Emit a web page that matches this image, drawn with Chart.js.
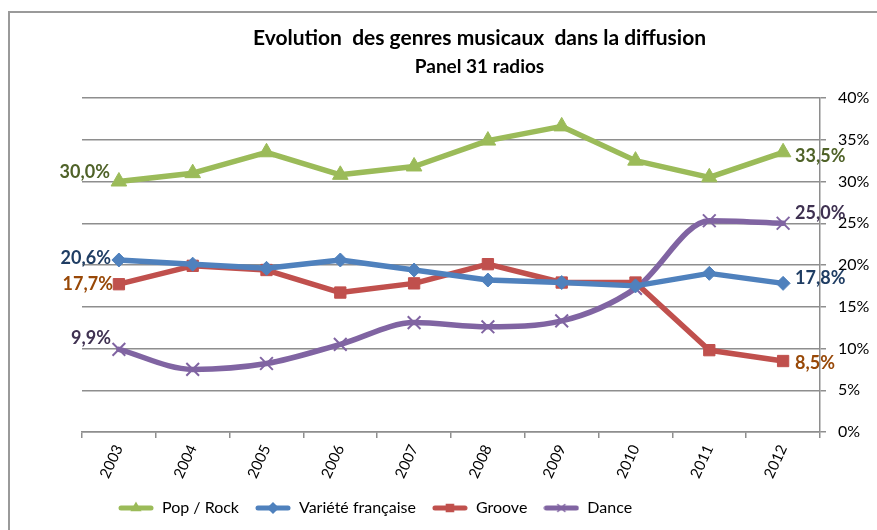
<!DOCTYPE html>
<html>
<head>
    <title>Evolution des genres musicaux</title>
    <script src="https://cdn.jsdelivr.net/npm/chart.js"></script>
    <style>
        body { margin: 0; overflow: hidden; background: #fff; }
        #frame { position: absolute; left: 8px; top: 11px; width: 900px; height: 600px;
                 border-top: 2px solid #9a9a9a; border-left: 2px solid #9a9a9a; }
        #plot { position: absolute; left: 0; top: 0; }
    </style>
</head>
<body>
    <div id="frame"></div>
    <canvas id="plot" width="877" height="530"></canvas>

    <script>
        // values (percent)
        const years = ['2003', '2004', '2005', '2006', '2007', '2008', '2009', '2010', '2011', '2012'];
        const popRock = [30.0, 31.0, 33.5, 30.8, 31.8, 34.9, 36.6, 32.5, 30.5, 33.5];
        const varieteFr = [20.6, 20.1, 19.6, 20.6, 19.4, 18.2, 17.9, 17.5, 19.0, 17.8];
        const groove = [17.7, 19.9, 19.4, 16.7, 17.8, 20.1, 17.9, 17.9, 9.8, 8.5];
        const dance = [9.9, 7.5, 8.2, 10.5, 13.1, 12.6, 13.3, 17.2, 25.3, 25.0];

        const FONT = 'Lato, "Noto Sans", sans-serif';

        const series = [
            { label: 'Pop / Rock', data: popRock, color: '#9BBB59', text: '#4F6228', style: 'triangle', r: 9, smooth: false },
            { label: 'Variété française', data: varieteFr, color: '#4F81BD', text: '#1F3D63', style: 'rectRot', r: 7, smooth: false },
            { label: 'Groove', data: groove, color: '#C0504D', text: '#984807', style: 'rect', r: 8, smooth: false },
            { label: 'Dance', data: dance, color: '#8064A2', text: '#3F3151', style: 'crossRot', r: 9, smooth: true }
        ];

        // little line + marker pictures for the legend
        function legendIcon(s) {
            const c = document.createElement('canvas');
            c.width = 36; c.height = 14;
            const g = c.getContext('2d');
            g.strokeStyle = s.color;
            g.fillStyle = s.color;
            g.lineWidth = 5;
            g.lineCap = 'round';
            g.beginPath(); g.moveTo(3, 7); g.lineTo(33, 7); g.stroke();
            g.lineWidth = 1.5;
            Chart.helpers.drawPoint(g, { pointStyle: s.style, radius: 5, rotation: 0, borderWidth: 1.5 }, 18, 7);
            return c;
        }

        // first / last value labels
        const edgeLabels = {
            id: 'edgeLabels',
            afterDatasetsDraw(chart, args, opts) {
                const ctx = chart.ctx;
                ctx.save();
                ctx.font = 'bold 18px ' + FONT;
                ctx.textBaseline = 'middle';
                chart.data.datasets.forEach((ds, i) => {
                    const pts = chart.getDatasetMeta(i).data;
                    const o = opts.offsets[i];
                    const fmt = v => v.toFixed(1).replace('.', ',') + '%';
                    ctx.fillStyle = series[i].text;
                    const a = pts[0], b = pts[pts.length - 1];
                    ctx.textAlign = 'right';
                    ctx.fillText(fmt(ds.data[0]), a.x - o[0], a.y + o[1]);
                    ctx.textAlign = 'left';
                    ctx.fillText(fmt(ds.data[ds.data.length - 1]), b.x + o[2], b.y + o[3]);
                });
                ctx.restore();
            }
        };

        // move the legend a bit to the right like the original
        const legendShift = {
            id: 'legendShift',
            afterLayout(chart) { chart.legend.left += 20; chart.legend.right += 20; }
        };

        const ctx = document.getElementById('plot').getContext('2d');
        const chart = new Chart(ctx, {
            type: 'line',
            data: {
                labels: years,
                datasets: series.map(s => ({
                    label: s.label,
                    data: s.data,
                    borderColor: s.color,
                    backgroundColor: s.color,
                    borderWidth: 5.5,
                    borderJoinStyle: 'round',
                    borderCapStyle: 'round',
                    pointStyle: s.style,
                    pointRadius: s.r,
                    pointBorderWidth: s.style === 'crossRot' ? 2 : 1,
                    pointBackgroundColor: s.color,
                    pointBorderColor: s.color,
                    cubicInterpolationMode: s.smooth ? 'monotone' : 'default',
                    tension: 0,
                    fill: false
                }))
            },
            options: {
                responsive: false,
                animation: false,
                layout: { padding: { left: 82, right: 0, top: 0, bottom: 4 } },
                plugins: {
                    title: {
                        display: true,
                        text: 'Evolution  des genres musicaux  dans la diffusion',
                        color: '#000',
                        font: { family: FONT, size: 21, weight: 'bold', lineHeight: 1.2 },
                        padding: { top: 26, bottom: 2 }
                    },
                    subtitle: {
                        display: true,
                        text: 'Panel 31 radios',
                        color: '#000',
                        font: { family: FONT, size: 19, weight: 'bold', lineHeight: 1.2 },
                        padding: { top: 2, bottom: 20 }
                    },
                    legend: {
                        position: 'bottom',
                        align: 'start',
                        labels: {
                            color: '#000',
                            font: { family: FONT, size: 16 },
                            usePointStyle: true,
                            pointStyleWidth: 36,
                            boxHeight: 14,
                            padding: 16,
                            generateLabels(chart) {
                                const items = Chart.defaults.plugins.legend.labels.generateLabels(chart);
                                items.forEach((it, i) => { it.pointStyle = legendIcon(series[i]); });
                                return items;
                            }
                        }
                    },
                    tooltip: { enabled: false },
                    edgeLabels: {
                        // [left dx, left dy, right dx, right dy]
                        offsets: [[9, -9, 12, 4], [8, -2, 12, -5], [6, 0, 12, 2], [8, -11, 12, -10]]
                    }
                },
                scales: {
                    x: {
                        offset: true,
                        grid: { display: true, drawOnChartArea: false, offset: true, color: '#8E8E8E', lineWidth: 1.5, tickLength: 6 },
                        border: { color: '#8E8E8E', width: 1.5 },
                        ticks: { color: '#000', font: { family: FONT, size: 15 }, minRotation: 65, maxRotation: 65, padding: 4 },
                        afterFit(scale) { scale.height = 52; }
                    },
                    y: {
                        position: 'right',
                        min: 0,
                        max: 40,
                        ticks: {
                            stepSize: 5,
                            color: '#000',
                            padding: 12,
                            font: { family: FONT, size: 16 },
                            callback: v => v + '%'
                        },
                        grid: { color: '#8E8E8E', lineWidth: 1.5, tickLength: 6 },
                        border: { color: '#8E8E8E', width: 1.5 },
                        afterFit(scale) { scale.width = 57; }
                    }
                }
            },
            plugins: [edgeLabels, legendShift]
        });
    </script>
</body>
</html>
